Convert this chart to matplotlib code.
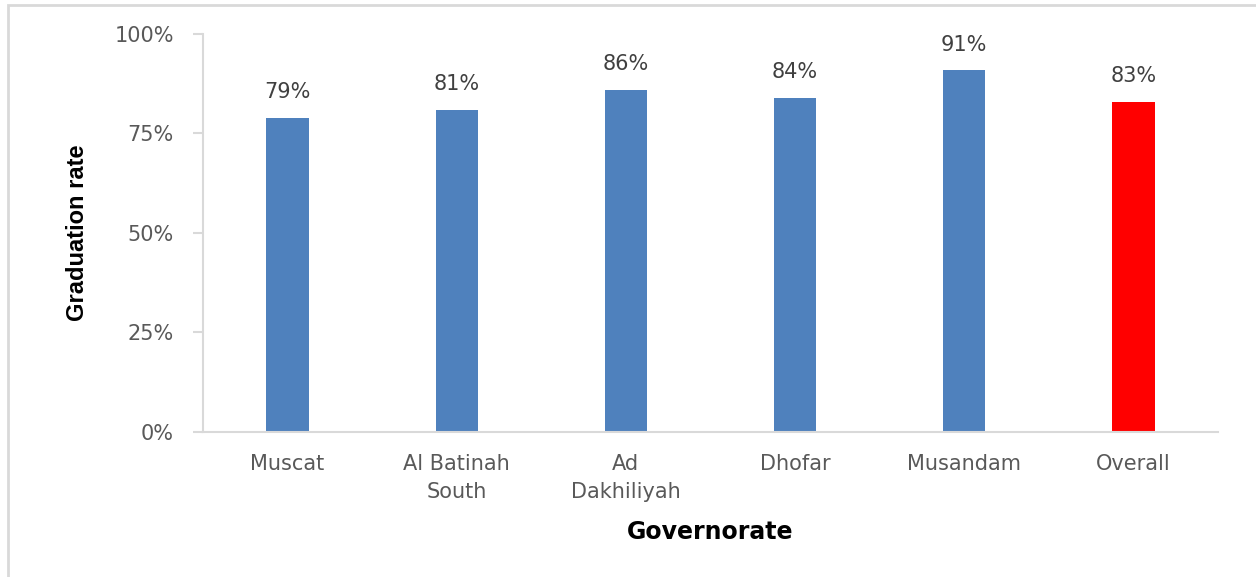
import numpy as np
import matplotlib.pyplot as plt
from matplotlib.patches import Rectangle

# data
governorates = ["Muscat", "Al Batinah\nSouth", "Ad\nDakhiliyah", "Dhofar", "Musandam", "Overall"]
rates = [79, 81, 86, 84, 91, 83]
bar_colors = ["#4F81BD", "#4F81BD", "#4F81BD", "#4F81BD", "#4F81BD", "#FF0000"]
y_ticks = [0, 25, 50, 75, 100]

fig = plt.figure(figsize=(12.56, 5.77), dpi=100)
ax = fig.add_axes([0.1616, 0.2513, 0.8081, 0.6898])

x = np.arange(len(governorates))
ax.bar(x, rates, width=0.25, color=bar_colors)

for xi, r in zip(x, rates):
    ax.annotate(f"{r}%", (xi, r), xytext=(0, 11), textcoords="offset points",
                ha="center", va="bottom", fontsize=15, color="#404040")

ax.set_xlim(-0.5, len(governorates) - 0.5)
ax.set_ylim(0, 100)
ax.set_yticks(y_ticks)
ax.set_yticklabels([f"{t}%" for t in y_ticks], fontsize=15, color="#595959")
ax.set_xticks(x)
ax.set_xticklabels(governorates, fontsize=15, color="#595959", linespacing=1.5)
ax.tick_params(axis="x", length=0, pad=16)
ax.tick_params(axis="y", length=7, width=1.5, color="#D9D9D9", pad=14)

for s in ["top", "right"]:
    ax.spines[s].set_visible(False)
for s in ["left", "bottom"]:
    ax.spines[s].set_color("#D9D9D9")
    ax.spines[s].set_linewidth(1.5)

ax.set_ylabel("Graduation rate", fontsize=17, fontweight="bold",
              family=["Liberation Sans", "DejaVu Sans"], color="black", labelpad=18)
ax.set_xlabel("Governorate", fontsize=17, fontweight="bold", color="black", labelpad=13)

# light frame around the chart area
fig.patches.append(Rectangle((8 / 1256, -0.05), 1.1, 1 - 5 / 577 + 0.05,
                             transform=fig.transFigure, fill=False,
                             edgecolor="#D9D9D9", linewidth=2))

fig.savefig("out.png", dpi=100)
